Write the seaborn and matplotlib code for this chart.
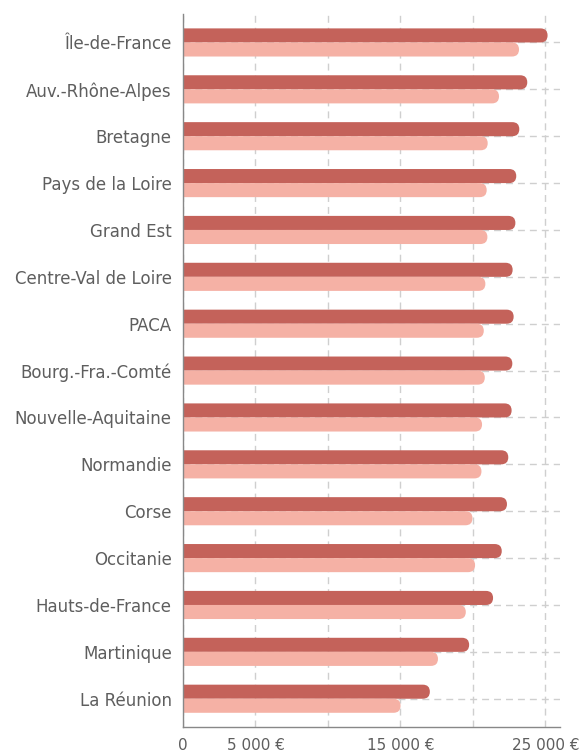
import pandas as pd
import matplotlib.pyplot as plt
import seaborn as sns
from matplotlib.patches import FancyBboxPatch

# données (en euros)
regions = ["Île-de-France", "Auv.-Rhône-Alpes", "Bretagne", "Pays de la Loire",
           "Grand Est", "Centre-Val de Loire", "PACA", "Bourg.-Fra.-Comté",
           "Nouvelle-Aquitaine", "Normandie", "Corse", "Occitanie",
           "Hauts-de-France", "Martinique", "La Réunion"]
serie_haut = [25150, 23750, 23200, 22990, 22930, 22740, 22810, 22720,
              22670, 22440, 22350, 21990, 21390, 19740, 17030]
serie_bas = [23180, 21800, 21020, 20950, 21000, 20860, 20750, 20820,
             20630, 20590, 19970, 20150, 19510, 17590, 15010]
series = ["haut", "bas"]
couleurs = ["#c4625a", "#f5b1a5"]
xticks = [0, 5000, 10000, 15000, 20000, 25000]
xlabels = ["0", "5 000 €", "", "15 000 €", "", "25 000 €"]

df = pd.DataFrame({
    "region": regions * 2,
    "valeur": serie_haut + serie_bas,
    "serie": [series[0]] * len(regions) + [series[1]] * len(regions),
})

sns.set_style("white")
plt.rcParams["font.family"] = ["DejaVu Sans"]

fig, ax = plt.subplots(figsize=(5.79, 7.54), dpi=100)
fig.subplots_adjust(left=0.316, right=0.967, top=0.981, bottom=0.036)

sns.barplot(data=df, y="region", x="valeur", hue="serie", orient="h",
            palette=couleurs, saturation=1, width=0.6, legend=False, ax=ax)

ax.set_xlim(0, 26000)
ax.set_ylim(len(regions) - 0.4, -0.6)

# bouts arrondis
bbox = ax.get_window_extent()
px_x = bbox.width / 26000
px_y = bbox.height / (len(regions) + 0.2)
for p in list(ax.patches):
    x, y = p.get_x(), p.get_y()
    w, h = p.get_width(), p.get_height()
    r = (h * px_y / 2) / px_x
    fb = FancyBboxPatch((x - r, y), w + r, h,
                        boxstyle=f"round,pad=0,rounding_size={r}",
                        mutation_aspect=h / (2 * r),
                        facecolor=p.get_facecolor(), edgecolor="none",
                        zorder=2)
    p.remove()
    ax.add_patch(fb)

ax.set_xticks(xticks)
ax.set_xticklabels(xlabels)
ax.set_xlabel("")
ax.set_ylabel("")

ax.set_axisbelow(True)
ax.grid(True, axis="both", color="#cfcfcf", linewidth=1.0,
        linestyle=(0, (5, 3.6)))

for s in ["top", "right"]:
    ax.spines[s].set_visible(False)
for s in ["left", "bottom"]:
    ax.spines[s].set_color("#888888")
    ax.spines[s].set_linewidth(1.0)

ax.tick_params(axis="y", length=0, pad=8, labelsize=12, labelcolor="#5e5e5e")
ax.tick_params(axis="x", length=0, pad=8, labelsize=11, labelcolor="#5e5e5e")

fig.savefig("out.png", dpi=100)
